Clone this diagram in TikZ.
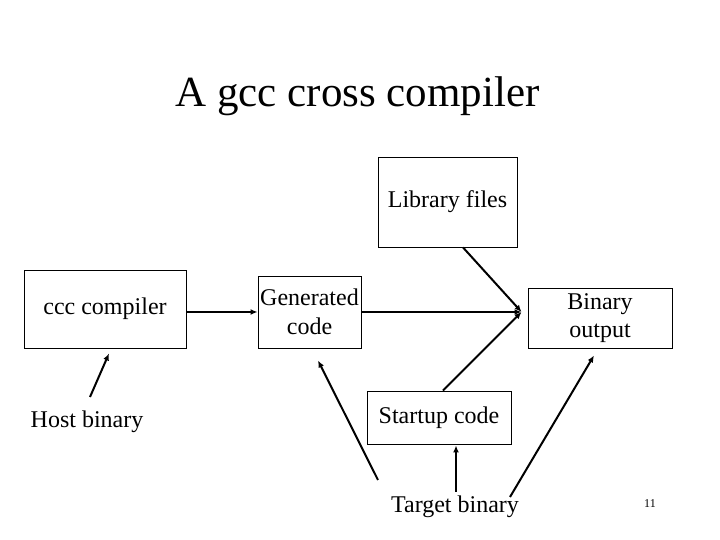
\documentclass[tikz,border=0pt]{standalone}
\usepackage{fontspec}
\setmainfont{Liberation Serif}
\usetikzlibrary{arrows.meta,calc}

\begin{document}
\begin{tikzpicture}[x=1pt, y=1pt, font=\fontsize{24}{28.5}\selectfont,
    every node/.style={align=center, inner sep=0pt},
    box/.style={draw, line width=0.9pt},
    arr/.style={-{Latex[length=7pt,width=6pt]}, line width=2pt}]
        \useasboundingbox (0,0) rectangle (720,540);

        \node[anchor=base, font=\fontsize{43}{50}\selectfont]
          (title) at (357.5,433) {A gcc cross compiler};

        \node[box,minimum width=139pt,minimum height=90pt]
          (lib) at (447.5,338) {Library files};
        \node[box,minimum width=162pt,minimum height=78pt]
          (ccc) at (105,231) {ccc compiler};
        \node[box,minimum width=103pt,minimum height=72pt]
          (gen) at (309.5,228) {Generated\\code};
        \node[box,minimum width=144pt,minimum height=60pt]
          (bin) at (600,222) {Binary\\output};
        \node[box,minimum width=144pt,minimum height=53pt]
          (start) at (439,122.5) {Startup code};

        \node[anchor=base] (host) at (87,112) {Host binary};
        \node[anchor=base] (target) at (455,27) {Target binary};
        \node[anchor=base, font=\fontsize{12}{14}\selectfont] (page) at (650,32) {11};

        % meeting point in front of the output box
        \coordinate (join) at ($(gen.east -| bin.west)+(-6,0)$);
        \coordinate (hostT) at ($(host.base)+(3,31)$);
        \coordinate (tgtA) at ($(target.base)+(-77,33)$);
        \coordinate (tgtB) at ($(target.base)+(1,21)$);
        \coordinate (tgtC) at ($(target.base)+(55,16)$);

        \draw[arr] (gen.west -| ccc.east) -- (gen.west);
        \draw[arr] (gen.east) -- (join);
        \draw[arr] ($(lib.south)+(15.5,0)$) -- (join);
        \draw[arr] ($(start.north)+(4,0)$) -- (join);

        \draw[arr] (hostT) -- ($(ccc.south)+(4,-5)$);
        \draw[arr] (tgtA) -- ($(gen.south)+(8.5,-12)$);
        \draw[arr] (tgtB) -- ($(start.south)+(17,-1)$);
        \draw[arr] (tgtC) -- ($(bin.south)+(-6,-7)$);
      \end{tikzpicture}
\end{document}
